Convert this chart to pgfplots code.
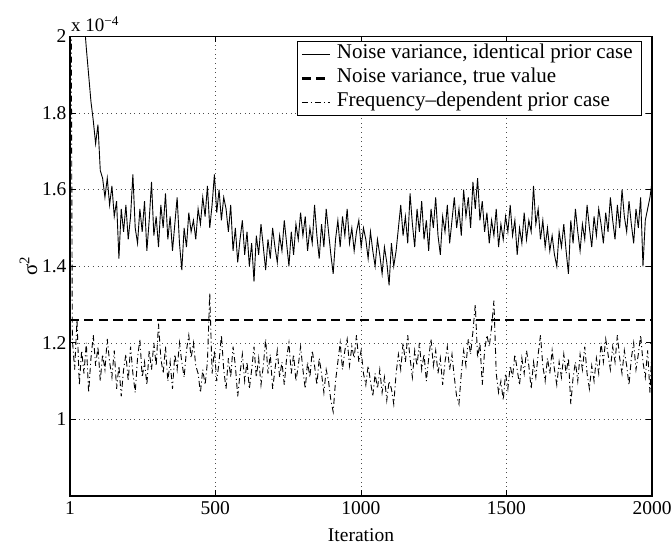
\documentclass[border=0pt]{standalone}
\usepackage{pgfplots}
\pgfplotsset{compat=1.18}
\usepackage{pgfplotstable}
\usepackage{fontspec}
\setmainfont{Liberation Serif}
\usetikzlibrary{calc}

\pgfplotstableread{
x s f
1 3.40 3.00
9 3.05 1.21
17 2.75 1.13
25 2.52 1.26
33 2.33 1.09
41 2.18 1.18
49 2.05 1.12
57 1.97 1.20
65 1.90 1.07
73 1.83 1.16
81 1.78 1.22
89 1.72 1.14
97 1.77 1.19
105 1.65 1.10
113 1.63 1.17
121 1.58 1.13
129 1.63 1.21
137 1.56 1.15
145 1.61 1.11
153 1.53 1.18
161 1.57 1.08
169 1.42 1.14
177 1.55 1.06
185 1.49 1.13
193 1.56 1.17
201 1.47 1.10
209 1.53 1.19
217 1.64 1.12
225 1.50 1.07
233 1.46 1.16
241 1.55 1.21
249 1.49 1.11
257 1.57 1.15
265 1.44 1.09
273 1.52 1.18
281 1.62 1.13
289 1.48 1.20
297 1.53 1.14
305 1.45 1.25
313 1.56 1.16
321 1.50 1.12
329 1.59 1.19
337 1.47 1.10
345 1.53 1.15
353 1.44 1.08
361 1.51 1.17
369 1.58 1.13
377 1.46 1.20
385 1.39 1.15
393 1.50 1.11
401 1.45 1.18
409 1.54 1.22
417 1.49 1.16
425 1.52 1.20
433 1.47 1.14
441 1.55 1.12
449 1.51 1.07
457 1.58 1.13
465 1.53 1.09
473 1.61 1.15
481 1.50 1.33
489 1.56 1.12
497 1.64 1.18
505 1.54 1.10
513 1.60 1.15
521 1.52 1.22
529 1.58 1.13
537 1.55 1.08
545 1.49 1.16
553 1.56 1.11
561 1.44 1.19
569 1.50 1.14
577 1.41 1.06
585 1.47 1.12
593 1.52 1.17
601 1.43 1.10
609 1.49 1.15
617 1.40 1.08
625 1.46 1.13
633 1.36 1.19
641 1.48 1.11
649 1.43 1.16
657 1.51 1.09
665 1.45 1.14
673 1.39 1.21
681 1.47 1.12
689 1.42 1.17
697 1.50 1.08
705 1.45 1.13
713 1.41 1.18
721 1.48 1.11
729 1.44 1.15
737 1.52 1.09
745 1.46 1.16
753 1.40 1.20
761 1.49 1.12
769 1.43 1.17
777 1.51 1.10
785 1.47 1.14
793 1.54 1.19
801 1.48 1.13
809 1.53 1.08
817 1.44 1.15
825 1.50 1.11
833 1.46 1.18
841 1.56 1.14
849 1.48 1.09
857 1.42 1.16
865 1.51 1.12
873 1.45 1.07
881 1.55 1.13
889 1.49 1.10
897 1.43 1.05
905 1.38 1.02
913 1.47 1.10
921 1.52 1.15
929 1.45 1.20
937 1.53 1.13
945 1.48 1.18
953 1.55 1.21
961 1.46 1.14
969 1.50 1.19
977 1.44 1.16
985 1.49 1.22
993 1.52 1.15
1001 1.45 1.18
1009 1.50 1.12
1017 1.47 1.09
1025 1.42 1.14
1033 1.49 1.10
1041 1.44 1.06
1049 1.40 1.12
1057 1.47 1.08
1065 1.43 1.13
1073 1.38 1.07
1081 1.45 1.11
1089 1.41 1.05
1097 1.35 1.10
1105 1.46 1.08
1113 1.40 1.04
1121 1.44 1.12
1129 1.50 1.17
1137 1.56 1.13
1145 1.48 1.20
1153 1.53 1.15
1161 1.46 1.22
1169 1.59 1.16
1177 1.51 1.11
1185 1.45 1.18
1193 1.55 1.14
1201 1.49 1.20
1209 1.57 1.13
1217 1.47 1.17
1225 1.52 1.10
1233 1.44 1.16
1241 1.55 1.21
1249 1.50 1.14
1257 1.58 1.18
1265 1.48 1.12
1273 1.43 1.16
1281 1.53 1.09
1289 1.49 1.15
1297 1.56 1.19
1305 1.46 1.13
1313 1.52 1.17
1321 1.58 1.11
1329 1.50 1.06
1337 1.55 1.04
1345 1.48 1.12
1353 1.60 1.18
1361 1.53 1.14
1369 1.58 1.21
1377 1.50 1.17
1385 1.62 1.23
1393 1.55 1.30
1401 1.63 1.16
1409 1.52 1.20
1417 1.57 1.09
1425 1.49 1.18
1433 1.54 1.22
1441 1.46 1.19
1449 1.52 1.24
1457 1.48 1.31
1465 1.55 1.12
1473 1.45 1.07
1481 1.51 1.10
1489 1.47 1.05
1497 1.53 1.12
1505 1.49 1.08
1513 1.56 1.14
1521 1.48 1.11
1529 1.52 1.17
1537 1.43 1.13
1545 1.50 1.09
1553 1.46 1.16
1561 1.54 1.12
1569 1.47 1.18
1577 1.52 1.14
1585 1.49 1.08
1593 1.61 1.15
1601 1.51 1.11
1609 1.55 1.17
1617 1.47 1.22
1625 1.52 1.14
1633 1.45 1.10
1641 1.50 1.16
1649 1.44 1.12
1657 1.48 1.18
1665 1.43 1.13
1673 1.40 1.09
1681 1.49 1.15
1689 1.45 1.11
1697 1.51 1.17
1705 1.44 1.12
1713 1.38 1.16
1721 1.52 1.04
1729 1.46 1.11
1737 1.55 1.15
1745 1.49 1.10
1753 1.44 1.17
1761 1.51 1.13
1769 1.47 1.19
1777 1.56 1.12
1785 1.50 1.08
1793 1.45 1.14
1801 1.53 1.10
1809 1.48 1.16
1817 1.55 1.12
1825 1.51 1.20
1833 1.46 1.15
1841 1.54 1.21
1849 1.49 1.17
1857 1.58 1.13
1865 1.52 1.19
1873 1.47 1.15
1881 1.56 1.22
1889 1.50 1.16
1897 1.60 1.12
1905 1.53 1.18
1913 1.49 1.14
1921 1.57 1.09
1929 1.51 1.16
1937 1.46 1.20
1945 1.55 1.13
1953 1.50 1.17
1961 1.58 1.22
1969 1.40 1.15
1977 1.52 1.11
1985 1.55 1.18
1993 1.58 1.07
2000 1.62 1.19
}\datatable

\begin{document}
\begin{tikzpicture}
\begin{axis}[
  scale only axis,
  width=582pt, height=459.5pt,
  xmin=1, xmax=2000, ymin=0.8, ymax=2,
  xtick={1,500,1000,1500,2000},
  ytick={1,1.2,1.4,1.6,1.8,2},
  /pgf/number format/1000 sep={},
  /pgf/number format/assume math mode=true,
  tick align=inside,
  major tick length=6pt,
  every tick/.style={black, line width=0.7pt},
  axis line style={line width=1.1pt},
  grid=major,
  major grid style={black!70, line width=0.6pt, dash pattern=on 0.6pt off 4pt},
  font=\fontsize{19.5}{22}\selectfont,
  ticklabel style={font=\fontsize{19.5}{22}\selectfont},
  xticklabel style={yshift=-2pt},
  xlabel={Iteration},
  ylabel={σ\textsuperscript{2}},
  xlabel style={font=\fontsize{19.5}{22}\selectfont, yshift=-7pt},
  ylabel style={font=\fontsize{21}{24}\selectfont, yshift=-2pt},
  legend cell align=left,
  legend style={at={(rel axis cs:1,1)}, anchor=north east, xshift=-10pt, yshift=-4.5pt,
    font=\fontsize{21}{24}\selectfont, draw=black, line width=0.9pt,
    inner xsep=3pt, inner ysep=1pt, row sep=0pt,
    nodes={inner xsep=6pt, inner ysep=2.5pt, text height=14pt, text depth=5pt}},
  legend image code/.code={\draw[#1] (0pt,0pt) -- (28pt,0pt);},
]
\addplot[black, line width=0.9pt] table[x=x, y=s] {\datatable};
\addlegendentry{Noise variance, identical prior case}
\addplot[black, line width=2.3pt, dash pattern=on 9pt off 5.5pt] coordinates {(1,1.26) (2000,1.26)};
\addlegendentry{Noise variance, true value}
\addplot[black, line width=0.9pt, dash pattern=on 6pt off 3pt on 1pt off 3pt] table[x=x, y=f] {\datatable};
\addlegendentry{Frequency–dependent prior case}
\end{axis}
\node[anchor=base west, inner sep=0pt, font=\fontsize{19}{22}\selectfont] at ($(current axis.north west)+(1pt,4.5pt)$) {x 10\textsuperscript{−4}};
\pgfresetboundingbox
\useasboundingbox ($(current axis.south west)+(-70pt,-45pt)$) rectangle ($(current axis.north east)+(20pt,36.5pt)$);
\end{tikzpicture}
\end{document}
